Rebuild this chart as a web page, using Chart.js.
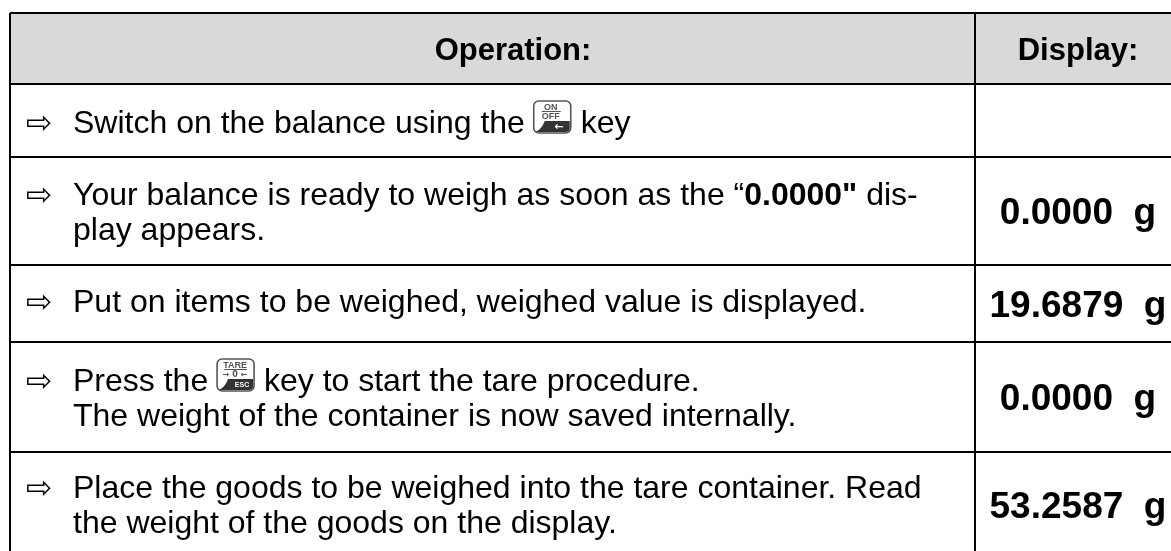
<!DOCTYPE html>
<html>
<head>
<meta charset="utf-8">
<style>
  html, body { margin: 0; padding: 0; background: #fff; }
  #chart { display: block; }
</style>
<script src="https://cdn.jsdelivr.net/npm/chart.js@4"></script>
</head>
<body>
<div style="width:1171px;height:551px"><canvas id="chart"></canvas></div>
<script>
const columnHeaders = ['Operation:', 'Display:'];
const displayValues = ['', '0.0000  g', '19.6879  g', '0.0000  g', '53.2587  g'];
const operationRows = [
  [['Switch on the balance using the '], ['key:on'], [' key']],
  [['Your balance is ready to weigh as soon as the \u201c'], ['0.0000"', 'bold'], [' dis-'], ['\n'], ['play appears.']],
  [['Put on items to be weighed, weighed value is displayed.']],
  [['Press the '], ['key:tare'], [' key to start the tare procedure.'], ['\n'], ['The weight of the container is now saved internally.']],
  [['Place the goods to be weighed into the tare container. Read'], ['\n'], ['the weight of the goods on the display.']]
];

// table geometry, page pixels
const rowEdges = [13, 83.5, 156.5, 265, 341.7, 452];
const columnEdges = [10, 975];
const firstBaselines = [133, 205, 312, 391, 498];
const displayBaselines = [0, 224, 317, 410, 518];
const headerBaseline = 60;
const SANS = '"Liberation Sans", Arial, sans-serif';

function drawKey(ctx, x, y, kind) {
  const w = 37, h = 32;
  ctx.save();
  ctx.beginPath();
  ctx.roundRect(x, y, w, h, 5);
  ctx.fillStyle = '#fff';
  ctx.fill();
  ctx.strokeStyle = '#555';
  ctx.lineWidth = 1.6;
  ctx.stroke();
  ctx.beginPath();
  ctx.moveTo(x + 2, y + h - 1);
  ctx.quadraticCurveTo(x + 8, y + h - 4, x + 11, y + h - 12);
  ctx.lineTo(x + w - 1, y + h - 12);
  ctx.lineTo(x + w - 1, y + h - 5);
  ctx.quadraticCurveTo(x + w - 1, y + h - 1, x + w - 5, y + h - 1);
  ctx.closePath();
  ctx.fillStyle = '#333';
  ctx.fill();
  ctx.textAlign = 'center';
  ctx.fillStyle = '#555';
  if (kind === 'on') {
    ctx.font = 'bold 9px ' + SANS;
    ctx.fillText('ON', x + 17, y + 9);
    ctx.fillRect(x + 8, y + 10, 19, 1);
    ctx.fillText('OFF', x + 17, y + 18);
    ctx.fillStyle = '#fff';
    ctx.font = 'bold 11px "DejaVu Sans"';
    ctx.fillText('\u2190', x + 25, y + 29);
  } else {
    ctx.font = 'bold 9px ' + SANS;
    ctx.fillText('TARE', x + 18, y + 9);
    ctx.fillRect(x + 7, y + 10, 23, 1);
    ctx.font = 'bold 8px "DejaVu Sans"';
    ctx.fillText('\u2192 0 \u2190', x + 18, y + 18);
    ctx.fillStyle = '#fff';
    ctx.font = 'bold 7px ' + SANS;
    ctx.fillText('ESC', x + 25, y + 28);
  }
  ctx.restore();
}

const tableText = {
  id: 'tableText',
  afterDraw(chart) {
    const ctx = chart.ctx;
    const sx = chart.scales.x, sy = chart.scales.y;
    const px = v => sx.getPixelForValue(v), py = v => sy.getPixelForValue(v);
    ctx.save();
    ctx.fillStyle = '#000';
    ctx.textBaseline = 'alphabetic';
    ctx.textAlign = 'center';
    ctx.font = 'bold 31px ' + SANS;
    ctx.fillText(columnHeaders[0], px(513), py(headerBaseline));
    ctx.fillText(columnHeaders[1], px(1078), py(headerBaseline));

    ctx.font = 'bold 37px ' + SANS;
    displayValues.forEach((v, i) => {
      if (v) ctx.fillText(v, px(1078), py(displayBaselines[i]));
    });

    ctx.textAlign = 'left';
    operationRows.forEach((segs, i) => {
      let base = firstBaselines[i];
      ctx.font = '31px "DejaVu Sans", sans-serif';
      ctx.fillText('\u21e8', px(26), py(base));
      let x = 73;
      segs.forEach(([t, style]) => {
        if (t === '\n') { base += 35; x = 73; return; }
        if (t.startsWith('key:')) {
          drawKey(ctx, px(x), py(base) - 32, t.slice(4));
          x += 38;
          return;
        }
        ctx.font = (style === 'bold' ? 'bold ' : '') + '32px ' + SANS;
        ctx.fillText(t, px(x), py(base));
        x += ctx.measureText(t).width;
      });
    });
    ctx.restore();
  }
};

new Chart(document.getElementById('chart'), {
  type: 'line',
  data: {
    datasets: [
      {
        // header band
        data: [{ x: columnEdges[0], y: rowEdges[1] }, { x: 1171, y: rowEdges[1] }],
        fill: 'end',
        backgroundColor: '#d9d9d9',
        borderWidth: 0,
        pointRadius: 0
      },
      {
        // faint seam in the header band
        data: [{ x: 960, y: rowEdges[0] }, { x: 960, y: rowEdges[1] }],
        borderColor: '#e4e4e4',
        borderWidth: 1,
        pointRadius: 0
      }
    ]
  },
  plugins: [tableText],
  options: {
    responsive: true,
    maintainAspectRatio: false,
    animation: false,
    layout: { padding: { left: 10, top: 13, right: 0, bottom: 0 } },
    plugins: { legend: { display: false }, tooltip: { enabled: false } },
    scales: {
      x: {
        type: 'linear',
        min: 10,
        max: 1171,
        border: { display: false },
        afterBuildTicks: s => { s.ticks = columnEdges.map(v => ({ value: v })); },
        ticks: { display: false },
        grid: { color: '#000', lineWidth: 2, drawTicks: false, z: 1 }
      },
      y: {
        type: 'linear',
        reverse: true,
        min: 13,
        max: 551,
        border: { display: false },
        afterBuildTicks: s => { s.ticks = rowEdges.map(v => ({ value: v })); },
        ticks: { display: false },
        grid: { color: '#000', lineWidth: 2, drawTicks: false, z: 1 }
      }
    }
  }
});
</script>
</body>
</html>
